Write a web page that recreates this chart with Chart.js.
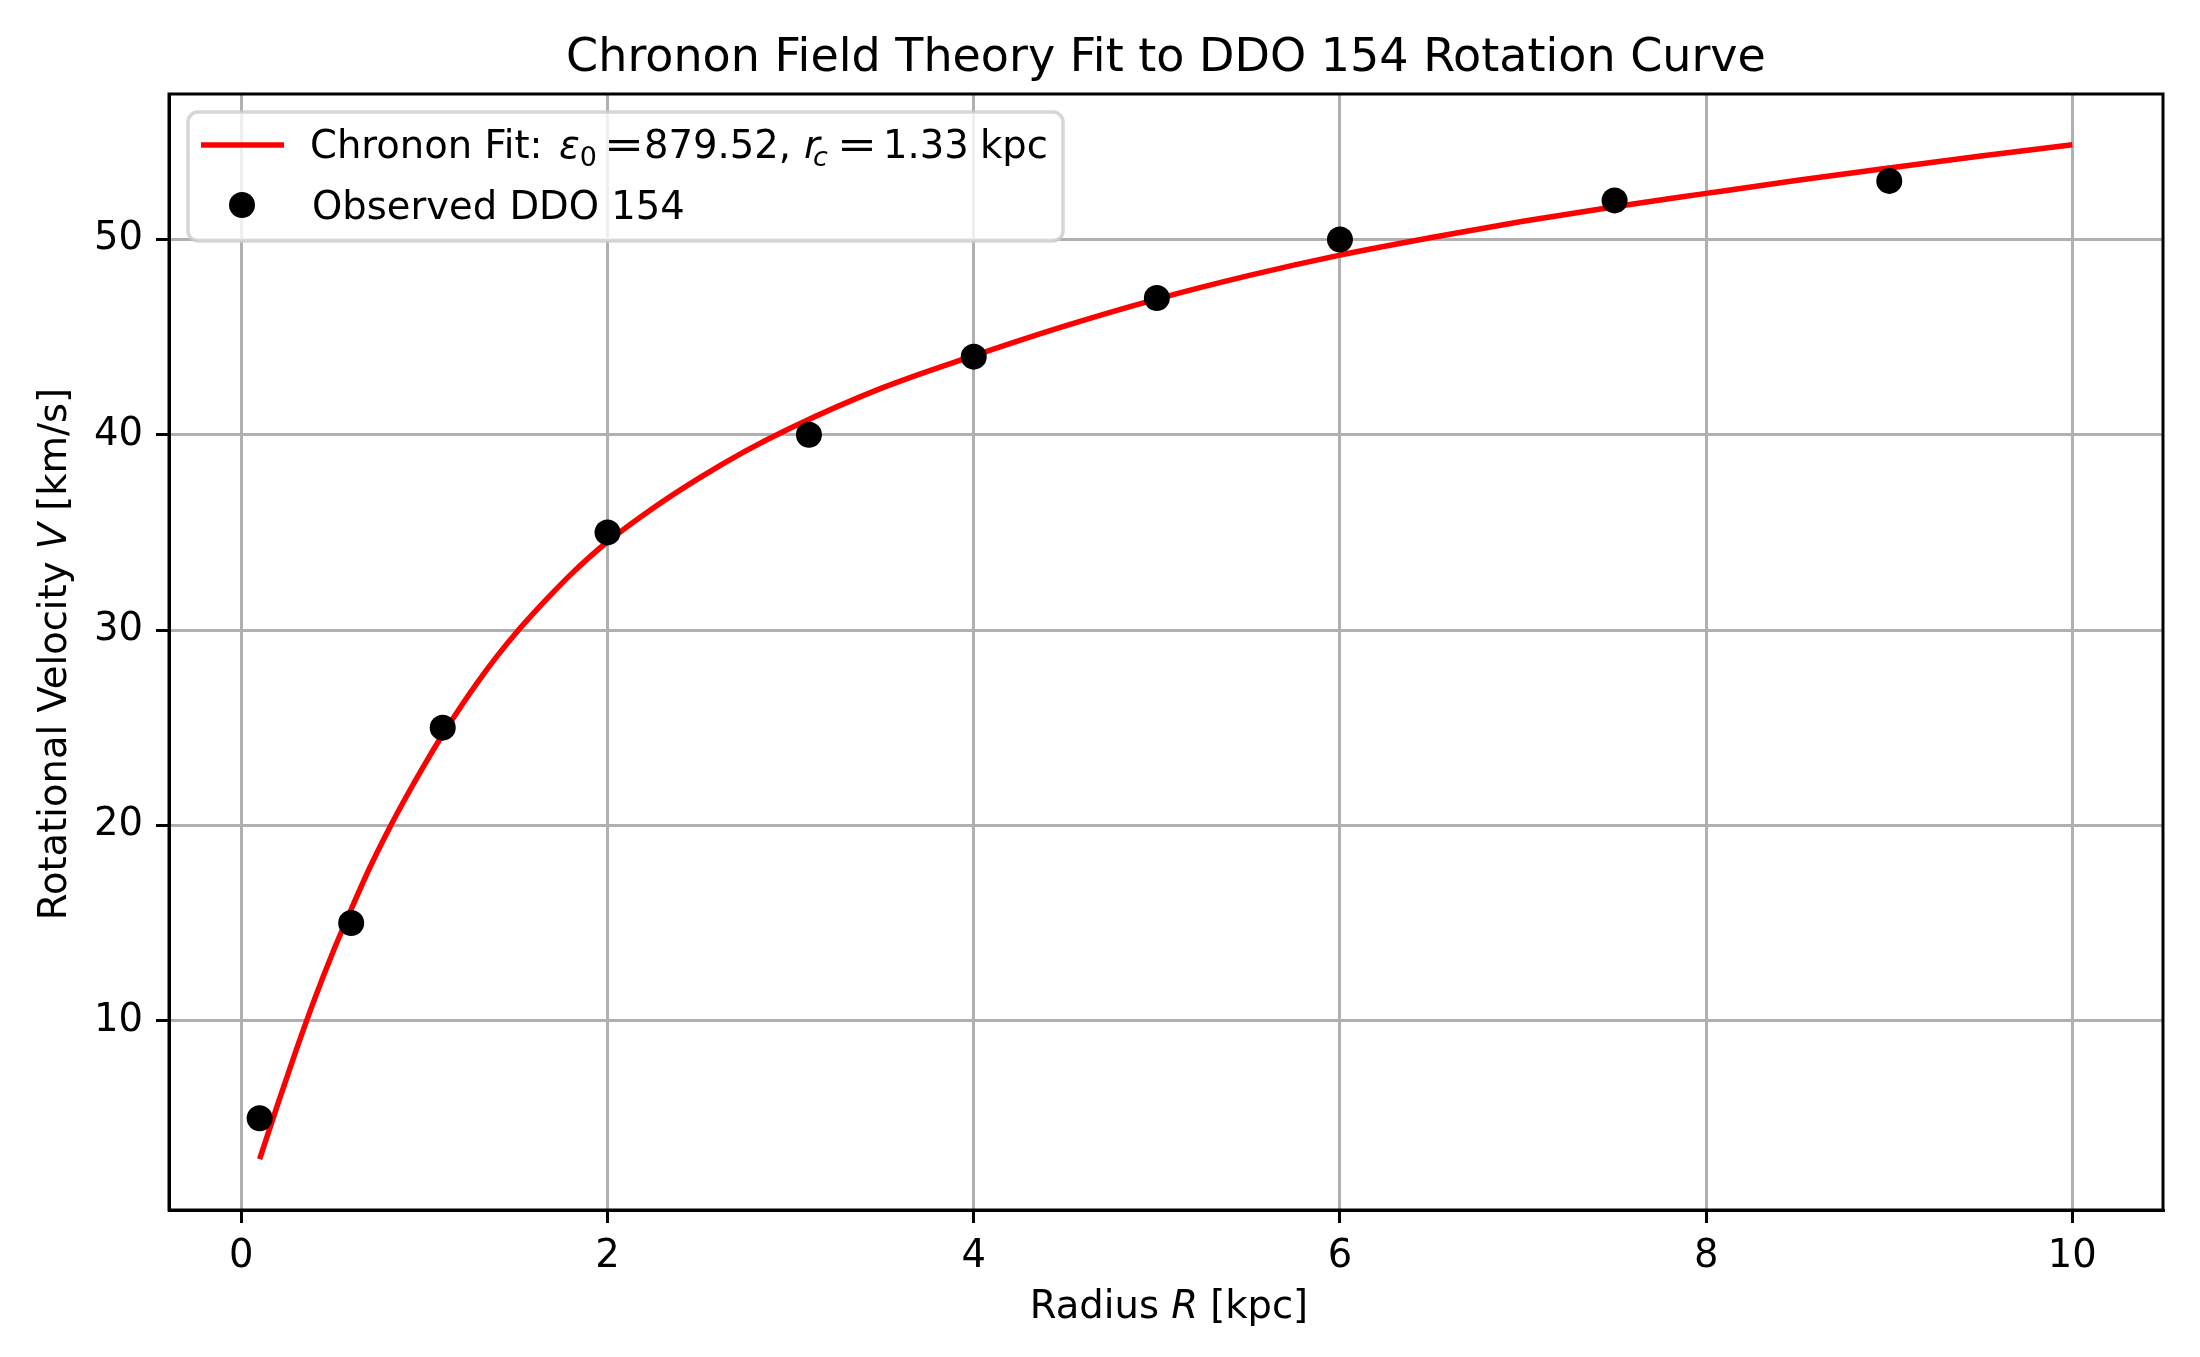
<!DOCTYPE html>
<html>
<head>
<meta charset="utf-8">
<title>Chronon Field Theory Fit to DDO 154 Rotation Curve</title>
<script src="https://cdn.jsdelivr.net/npm/chart.js@4.4.1/dist/chart.umd.min.js"></script>
<style>
  html, body { margin:0; padding:0; background:#fff; }
  canvas { display:block; }
</style>
</head>
<body>
<canvas id="chart" width="2200" height="1357" style="width:2200px;height:1357px"></canvas>
<script>
// --- Data
const obsRadius   = [0.1, 0.6, 1.1, 2.0, 3.1, 4.0, 5.0, 6.0, 7.5, 9.0];
const obsVelocity = [5, 15, 25, 35, 40, 44, 47, 50, 52, 53];

const fitRadius   = [0.1, 0.2, 0.3, 0.4, 0.5, 0.6, 0.7, 0.8, 0.9, 1.0, 1.1, 1.2, 1.3, 1.4, 1.5, 1.6, 1.7, 1.8, 1.9, 2.0,
                     2.25, 2.5, 2.75, 3.0, 3.5, 4.0, 4.5, 5.0, 5.5, 6.0, 6.5, 7.0, 7.5, 8.0, 8.5, 9.0, 9.5, 10.0];
const fitVelocity = [2.9, 5.75, 8.5, 11.1, 13.5, 15.7, 17.8, 19.7, 21.45, 23.1, 24.65, 26.1, 27.45, 28.7, 29.85, 30.9, 31.9, 32.85, 33.72, 34.52,
                     36.25, 37.78, 39.15, 40.35, 42.4, 44.05, 45.58, 46.95, 48.15, 49.2, 50.1, 50.93, 51.68, 52.36, 53.03, 53.66, 54.27, 54.85];

const xTicks = [0, 2, 4, 6, 8, 10];
const yTicks = [10, 20, 30, 40, 50];

const titleText = 'Chronon Field Theory Fit to DDO 154 Rotation Curve';
const fitLabel = [
  { t:'Chronon Fit:' }, { t:'ε', it:true }, { t:'0', sub:true }, { t:'=' }, { t:'879.52,' },
  { t:'r', it:true }, { t:'c', it:true, sub:true }, { t:'=' }, { t:'1.33' }, { t:'kpc' }
];
const obsLabel = [{ t:'Observed DDO 154' }];
const xLabel = [{ t:'Radius ' }, { t:'R', it:true }, { t:' [kpc]' }];
const yLabel = [{ t:'Rotational Velocity ' }, { t:'V', it:true }, { t:' [km/s]' }];

// --- Helpers
const FAMILY = '"DejaVu Sans", "Liberation Sans", sans-serif';
const FS = 38.5;
const font = (size, it) => `${it ? 'italic ' : ''}${size}px ${FAMILY}`;
const toPoints = (xs, ys) => xs.map((x, i) => ({ x, y: ys[i] }));

function richWidth(ctx, segs, size){
  return segs.reduce((w, s) => { ctx.font = font(s.sub ? size*0.7 : size, s.it); return w + ctx.measureText(s.t).width; }, 0);
}
// draw text made of upright / italic / subscript pieces, baseline at y
function drawRich(ctx, segs, x, y, size, align){
  const w = richWidth(ctx, segs, size);
  let cx = align === 'center' ? x - w/2 : x;
  ctx.textBaseline = 'alphabetic';
  ctx.textAlign = 'left';
  segs.forEach(s => {
    const sz = s.sub ? size*0.7 : size;
    ctx.font = font(sz, s.it);
    ctx.fillText(s.t, cx, s.sub ? y + size*0.2 : y);
    cx += ctx.measureText(s.t).width;
  });
}
// mathtext-like legend line: each piece placed at the ink position seen in the picture
// (number = ink left edge, [l, r] = ink span of a relation sign, null = follows previous piece)
const fitInk = [312, 560, null, [609, 640], 646, 805, 814, [842, 873], 887, 983];
function drawMath(ctx, segs, inks, y, size){
  ctx.textBaseline = 'alphabetic';
  ctx.textAlign = 'left';
  let cx = 0;
  segs.forEach((s, i) => {
    const sz = s.sub ? size*0.7 : size;
    const yy = s.sub ? y + size*0.2 : y;
    ctx.font = font(sz, s.it);
    const m = ctx.measureText(s.t);
    const ink = inks[i];
    if (Array.isArray(ink)) {
      const iw = m.actualBoundingBoxLeft + m.actualBoundingBoxRight;
      const k = (ink[1] - ink[0]) / iw;
      ctx.save();
      ctx.translate(ink[0], yy);
      ctx.scale(k, 1);
      ctx.fillText(s.t, m.actualBoundingBoxLeft, 0);
      ctx.restore();
      cx = ink[1];
      return;
    }
    if (ink != null) cx = ink + m.actualBoundingBoxLeft;
    ctx.fillText(s.t, cx, yy);
    cx += m.width;
  });
}

// --- Decorations: background, frame, title, axis labels, legend
const decor = {
  id:'decor',
  beforeDraw(chart){
    const c = chart.ctx;
    c.save(); c.fillStyle = '#fff'; c.fillRect(0, 0, chart.width, chart.height); c.restore();
  },
  afterDraw(chart){
    const c = chart.ctx, a = chart.chartArea;
    c.save();
    c.strokeStyle = '#000'; c.lineWidth = 3;
    c.strokeRect(a.left, a.top, a.right - a.left, a.bottom - a.top);

    c.fillStyle = '#000';
    drawRich(c, [{ t:titleText }], (a.left + a.right)/2, 71, 46, 'center');
    drawRich(c, xLabel, (a.left + a.right)/2 + 3, 1318, FS, 'center');
    c.save();
    c.translate(66, (a.top + a.bottom)/2 + 2);
    c.rotate(-Math.PI/2);
    drawRich(c, yLabel, 0, 0, FS, 'center');
    c.restore();

    // legend box
    const bx = 188, by = 112, bw = 875, bh = 129, r = 10;
    c.beginPath();
    c.roundRect(bx, by, bw, bh, r);
    c.fillStyle = 'rgba(255,255,255,0.8)'; c.fill();
    c.strokeStyle = 'rgba(204,204,204,0.8)'; c.lineWidth = 3.5; c.stroke();

    c.beginPath(); c.moveTo(201, 145); c.lineTo(284, 145);
    c.strokeStyle = '#ff0000'; c.lineWidth = 5.5; c.stroke();
    c.beginPath(); c.arc(242, 205, 13, 0, Math.PI*2);
    c.fillStyle = '#000'; c.fill();

    c.fillStyle = '#000';
    drawMath(c, fitLabel, fitInk, 158, FS);
    drawRich(c, obsLabel, 312, 219, FS, 'left');
    c.restore();
  }
};

const tickFont = { family: FAMILY, size: FS };

new Chart(document.getElementById('chart'), {
  type: 'scatter',
  data: {
    datasets: [
      {
        label: 'Chronon Fit',
        data: toPoints(fitRadius, fitVelocity),
        showLine: true,
        borderColor: '#ff0000',
        borderWidth: 5.5,
        pointRadius: 0,
        cubicInterpolationMode: 'monotone',
        order: 1
      },
      {
        label: 'Observed DDO 154',
        data: toPoints(obsRadius, obsVelocity),
        showLine: false,
        pointRadius: 13,
        pointBackgroundColor: '#000',
        pointBorderWidth: 0,
        order: 0
      }
    ]
  },
  options: {
    responsive: false,
    devicePixelRatio: 1,
    animation: false,
    layout: { padding: { top: 94, right: 37, left: 0, bottom: 0 } },
    plugins: { legend: { display: false }, title: { display: false }, tooltip: { enabled: false } },
    scales: {
      x: {
        type: 'linear', min: -0.395, max: 10.495,
        afterBuildTicks: ax => { ax.ticks = xTicks.map(v => ({ value: v })); },
        afterFit: ax => { ax.height = 147; },
        grid: { color: '#b0b0b0', lineWidth: 3, tickLength: 13, tickColor: '#000', tickWidth: 3 },
        border: { color: '#000', width: 3 },
        ticks: { color: '#000', font: tickFont, padding: 11, maxRotation: 0, autoSkip: false }
      },
      y: {
        type: 'linear', min: 0.3, max: 57.45,
        afterBuildTicks: ax => { ax.ticks = yTicks.map(v => ({ value: v })); },
        afterFit: ax => { ax.width = 169; },
        grid: { color: '#b0b0b0', lineWidth: 3, tickLength: 13, tickColor: '#000', tickWidth: 3 },
        border: { color: '#000', width: 3 },
        ticks: { color: '#000', font: tickFont, padding: 13, autoSkip: false }
      }
    }
  },
  plugins: [decor]
});
</script>
</body>
</html>
